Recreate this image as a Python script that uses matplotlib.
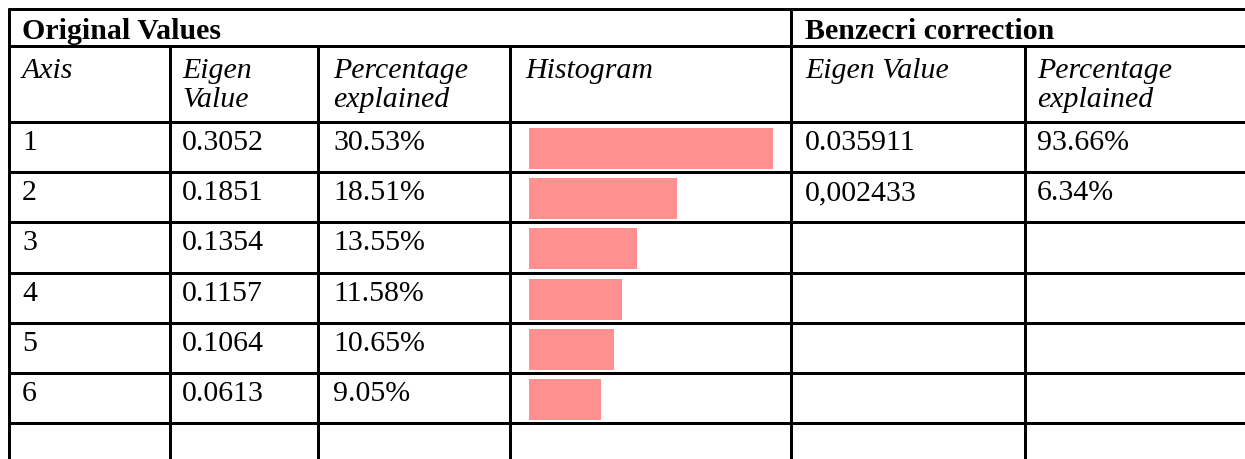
import matplotlib
matplotlib.use("Agg")
import matplotlib.pyplot as plt

# ---- data ----
axis_ids = ["1", "2", "3", "4", "5", "6"]
eigen_values = ["0.3052", "0.1851", "0.1354", "0.1157", "0.1064", "0.0613"]
pct_labels = ["30.53%", "18.51%", "13.55%", "11.58%", "10.65%", "9.05%"]
pct_values = [30.53, 18.51, 13.55, 11.58, 10.65, 9.05]
benz_eigen = ["0.035911", "0,002433"]
benz_pct = ["93.66%", "6.34%"]
group_titles = ["Original Values", "Benzecri correction"]
col_headers = [["Axis"], ["Eigen", "Value"], ["Percentage", "explained"], ["Histogram"],
               ["Eigen Value"], ["Percentage", "explained"]]

# ---- layout (pixels) ----
W, H = 1245, 459
DPI = 100
fig = plt.figure(figsize=(W / DPI, H / DPI), dpi=DPI)
ax = fig.add_axes([0, 0, 1, 1])
ax.set_xlim(0, W)
ax.set_ylim(H, 0)
ax.axis("off")

FONT = "Liberation Serif"
FS = 21.5
LW = 3 * 72 / DPI
BAR_COLOR = "#FF9090"

top = 9
h1 = 46
h2 = 122
row_h = 50.17
n_rows = 7
row_lines = [h2 + i * row_h for i in range(n_rows)]
col_lines = [9, 170, 317.5, 510, 790.5, 1025]
text_x = [22, 182, 333, 525, 805, 1037]

def hline(y, x0=9, x1=W):
    ax.plot([x0 - LW / 2, x1], [y, y], color="black", lw=LW, solid_capstyle="butt")

def vline(x, y0, y1=H):
    ax.plot([x, x], [y0 - 1.5, y1], color="black", lw=LW, solid_capstyle="butt")

hline(top)
hline(h1)
for y in row_lines:
    hline(y)
vline(col_lines[0], top)
vline(col_lines[4], top)
for x in [col_lines[1], col_lines[2], col_lines[3], col_lines[5]]:
    vline(x, h1)

# group titles
ax.text(text_x[0], 39, group_titles[0], fontfamily=FONT, fontweight="bold",
        fontsize=FS, va="baseline", ha="left")
ax.text(text_x[4], 39, group_titles[1], fontfamily=FONT, fontweight="bold",
        fontsize=FS, va="baseline", ha="left")

# column headers
for ci, lines in enumerate(col_headers):
    for li, t in enumerate(lines):
        ax.text(text_x[ci], 78 + li * 29, t, fontfamily=FONT, style="italic",
                fontsize=FS, va="baseline", ha="left")

# data rows
for i in range(len(axis_ids)):
    yb = row_lines[i] + 28
    ax.text(text_x[0], yb, axis_ids[i], fontfamily=FONT, fontsize=FS, va="baseline")
    ax.text(text_x[1], yb, eigen_values[i], fontfamily=FONT, fontsize=FS, va="baseline")
    ax.text(text_x[2], yb, pct_labels[i], fontfamily=FONT, fontsize=FS, va="baseline")
for i in range(len(benz_eigen)):
    yb = row_lines[i] + 28
    ax.text(text_x[4], yb, benz_eigen[i], fontfamily=FONT, fontsize=FS, va="baseline")
    ax.text(text_x[5], yb, benz_pct[i], fontfamily=FONT, fontsize=FS, va="baseline")

# histogram bars in an inset axes: 8 px per percent
px_per_pct = 8.0
bar_left = 529
bar_right = 789
y_top = row_lines[0] + 1.5
y_bot = row_lines[6] + 1.5
hax = fig.add_axes([bar_left / W, 1 - y_bot / H, (bar_right - bar_left) / W, (y_bot - y_top) / H])
hax.set_xlim(0, (bar_right - bar_left) / px_per_pct)
hax.set_ylim(len(pct_values) - 0.5, -0.5)
hax.barh(range(len(pct_values)), pct_values, height=41 / row_h, color=BAR_COLOR, left=0)
hax.axis("off")
hax.patch.set_alpha(0)

fig.savefig("out.png", dpi=DPI)
